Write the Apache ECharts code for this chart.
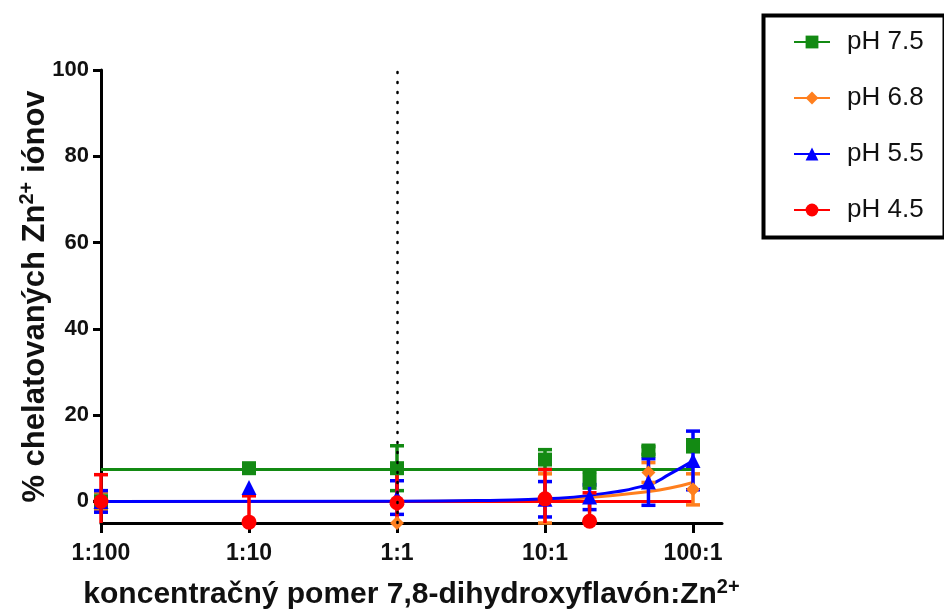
<!DOCTYPE html>
<html>
<head>
<meta charset="utf-8">
<script src="https://cdn.jsdelivr.net/npm/echarts@6/dist/echarts.min.js"></script>
<style>
  html, body { margin: 0; padding: 0; background: #fff; }
  #chart { width: 944px; height: 615px; }
</style>
</head>
<body>
<div id="chart"></div>
<script>
// concentration ratio 7,8-DHF : Zn2+ (log axis)
var ratios = [0.01, 0.1, 1, 10, 20, 50, 100];
var tickVals = [0.01, 0.1, 1, 10, 100];
var tickLabels = ['1:100', '1:10', '1:1', '10:1', '100:1'];
var yTicks = [0, 20, 40, 60, 80, 100];
var yMin = -5, yMax = 100;

// mean and sd per pH
var ph75Mean = [0, 7.7, 7.7, 9.7, 5.0, 11.8, 12.9];
var ph75Sd   = [2, 0, 5.2, 2.3, 1.9, 0.9, 1.4];
var ph68Mean = [0, -4.8, -5, 0.7, -4.5, 6.7, 2.8];
var ph68Sd   = [2.2, 0, 0, 5.7, 0, 2.3, 3.6];
var ph55Mean = [0, 3.2, 0.9, 0.5, 1.0, 4.5, 9.5];
var ph55Sd   = [2.5, 0, 3.9, 4.1, 2.9, 5.4, 6.8];
var ph45X    = [0.01, 0.1, 1, 10, 20];
var ph45Mean = [0, -4.8, -0.3, 0.6, -4.6];
var ph45Sd   = [6.2, 6.1, 7.3, 6.8, 6.6];

// fitted curves
var fitX     = [0.01, 1, 5, 10, 20, 50, 70, 100];
var fit75    = [7.4, 7.4, 7.4, 7.4, 7.4, 7.4, 7.4, 7.4];
var fit68    = [0, 0, 0.15, 0.3, 0.9, 2.3, 3.1, 4.4];
var fit55    = [0, 0.05, 0.3, 0.6, 1.4, 3.9, 6.4, 9.4];
var fit45    = [0, 0, 0, 0, 0, 0, 0, 0];

var green = '#138a13', orange = '#ff7f1e', blue = '#0000ff', red = '#ff0000';
var font = 'Liberation Sans, Arial';

function pairs(xs, ys) { return xs.map(function (x, i) { return [x, ys[i]]; }); }
function triples(xs, ys, ss) { return xs.map(function (x, i) { return [x, ys[i], ss[i]]; }); }

// error bars, cut off at the bottom of the axis like the original
function errBars(color) {
  return function (params, api) {
    var x = api.value(0), m = api.value(1), s = api.value(2);
    if (!s) return null;
    var lo = m - s;
    var cut = lo < yMin;
    var top = api.coord([x, m + s]);
    var bot = api.coord([x, cut ? yMin : lo]);
    var w = 7;
    var st = { stroke: color, lineWidth: 3.5 };
    var kids = [
      { type: 'line', shape: { x1: top[0], y1: top[1], x2: bot[0], y2: bot[1] }, style: st },
      { type: 'line', shape: { x1: top[0] - w, y1: top[1], x2: top[0] + w, y2: top[1] }, style: st }
    ];
    if (!cut) kids.push({ type: 'line', shape: { x1: bot[0] - w, y1: bot[1], x2: bot[0] + w, y2: bot[1] }, style: st });
    return { type: 'group', children: kids };
  };
}

function fitLine(name, color, symbol, size, fit, extra) {
  var s = {
    name: name, type: 'line', data: pairs(fitX, fit), smooth: true,
    symbol: symbol, symbolSize: size, showSymbol: false,
    lineStyle: { color: color, width: 3 }, itemStyle: { color: color },
    z: 2
  };
  if (extra) s.markLine = extra;
  return s;
}

function points(name, color, symbol, size, xs, means, sds) {
  return [
    {
      name: name + ' err', type: 'custom', data: triples(xs, means, sds),
      renderItem: errBars(color), encode: { x: 0, y: 1 }, clip: false, z: 3
    },
    {
      name: name + ' pts', type: 'scatter', data: pairs(xs, means),
      symbol: symbol, symbolSize: size, itemStyle: { color: color, opacity: 1 }, z: 4
    }
  ];
}

var chart = echarts.init(document.getElementById('chart'));

var dotted = {
  silent: true, symbol: 'none', label: { show: false },
  lineStyle: { color: '#000', width: 2.5, type: [1, 9], cap: 'round' },
  data: [{ xAxis: 1 }]
};

var series = [
  fitLine('pH 7.5', green, 'rect', 12, fit75, dotted),
  fitLine('pH 6.8', orange, 'diamond', 12, fit68),
  fitLine('pH 4.5', red, 'circle', 13, fit45),
  fitLine('pH 5.5', blue, 'triangle', 13, fit55)
].concat(
  points('pH 7.5', green, 'rect', 14, ratios, ph75Mean, ph75Sd),
  points('pH 6.8', orange, 'diamond', 14, ratios, ph68Mean, ph68Sd),
  points('pH 5.5', blue, 'triangle', 15, ratios, ph55Mean, ph55Sd),
  points('pH 4.5', red, 'circle', 15, ph45X, ph45Mean, ph45Sd)
);

chart.setOption({
  animation: false,
  backgroundColor: '#fff',
  grid: { left: 101, right: 222, top: 70, bottom: 90 },
  legend: {
    orient: 'vertical', left: 788, top: 24, itemGap: 30,
    itemWidth: 36, itemHeight: 16,
    data: ['pH 7.5', 'pH 6.8', 'pH 5.5', 'pH 4.5'],
    textStyle: { fontFamily: font, fontSize: 26, color: '#111', padding: [0, 0, 0, 12] }
  },
  graphic: [{
    type: 'rect', left: 761, top: 13,
    shape: { width: 181, height: 222 },
    style: { fill: 'none', stroke: '#000', lineWidth: 4 }
  }],
  xAxis: {
    type: 'log', logBase: 10, min: 0.01, max: 157,
    name: 'koncentračný pomer 7,8-dihydroxyflavón:Zn{sup|2+}',
    nameLocation: 'middle', nameGap: 54,
    nameTextStyle: {
      fontFamily: font, fontWeight: 'bold', fontSize: 30, color: '#111',
      rich: { sup: { fontFamily: font, fontWeight: 'bold', fontSize: 20, color: '#111', padding: [0, 0, 16, 0] } }
    },
    axisLine: { onZero: false, lineStyle: { color: '#000', width: 3 } },
    axisTick: { customValues: tickVals, length: 10, lineStyle: { color: '#000', width: 3 } },
    axisLabel: {
      customValues: tickVals, margin: 19,
      fontFamily: font, fontWeight: 'bold', fontSize: 23, color: '#111',
      formatter: function (v) {
        for (var i = 0; i < tickVals.length; i++) {
          if (Math.abs(Math.log10(v) - Math.log10(tickVals[i])) < 1e-6) return tickLabels[i];
        }
        return '';
      }
    },
    splitLine: { show: false },
    minorTick: { show: false }
  },
  yAxis: {
    type: 'value', min: yMin, max: yMax,
    name: '% chelatovaných Zn{sup|2+} iónov',
    nameLocation: 'middle', nameGap: 48, nameRotate: 90, nameMoveOverlap: false,
    nameTextStyle: {
      fontFamily: font, fontWeight: 'bold', fontSize: 31, color: '#111',
      rich: { sup: { fontFamily: font, fontWeight: 'bold', fontSize: 20, color: '#111', padding: [0, 0, 16, 0] } }
    },
    axisLine: { show: true, lineStyle: { color: '#000', width: 3 } },
    axisTick: { show: true, customValues: yTicks, length: 8, lineStyle: { color: '#000', width: 3 } },
    axisLabel: { customValues: yTicks, margin: 12, fontFamily: font, fontWeight: 'bold', fontSize: 22, color: '#111' },
    splitLine: { show: false }
  },
  series: series
});
</script>
</body>
</html>
